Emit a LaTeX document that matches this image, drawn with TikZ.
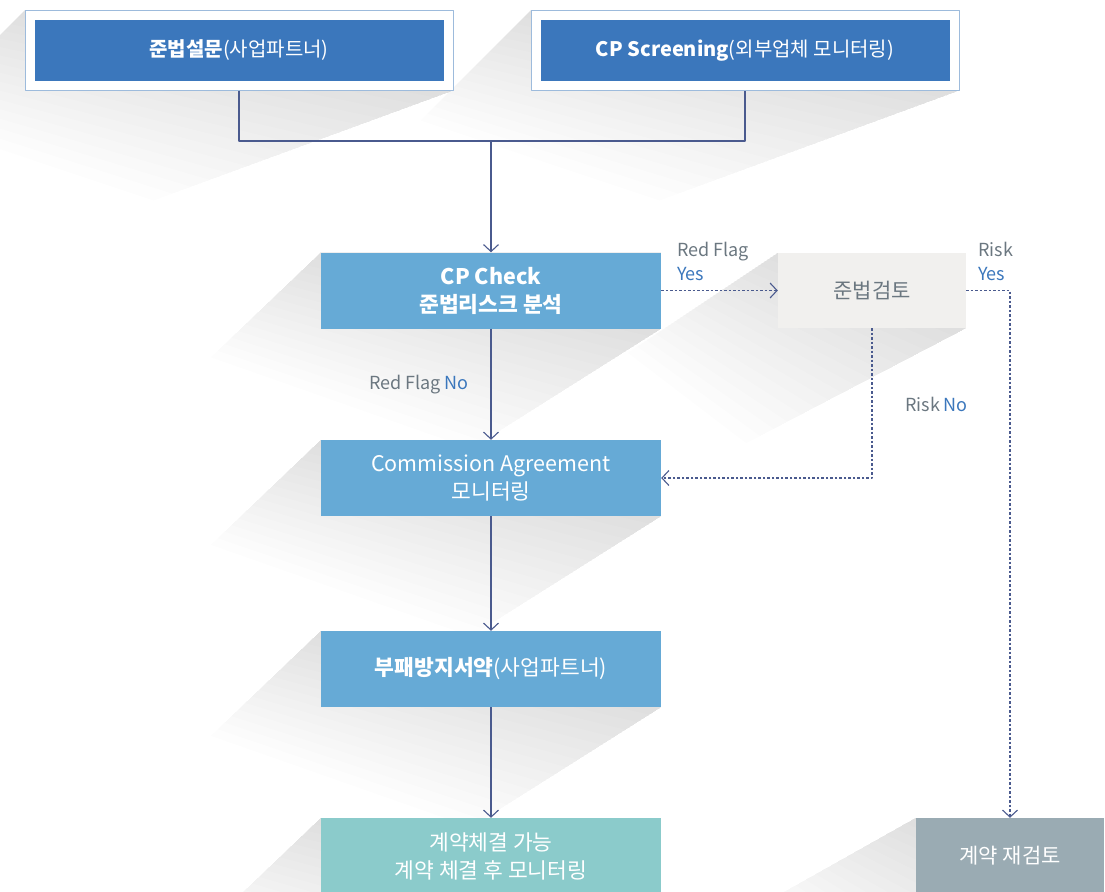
\documentclass[tikz,border=0pt]{standalone}
\usepackage{fontspec}
\setmainfont{Noto Sans CJK KR}
\usetikzlibrary{arrows.meta,calc}
\definecolor{topblue}{HTML}{3B77BC}
\definecolor{frameblue}{HTML}{9DBBDC}
\definecolor{midblue}{HTML}{66AAD6}
\definecolor{paleg}{HTML}{F1F0EE}
\definecolor{okteal}{HTML}{8BCBCB}
\definecolor{slateb}{HTML}{9AABB3}
\definecolor{linec}{HTML}{4A5A8E}
\definecolor{txtgray}{HTML}{6B7780}
\pgfdeclarelayer{bg}
\pgfsetlayers{bg,main}
% long shadow: node, offset of left corner, offset of right corner
\newcommand\longshadow[3]{%
\foreach \k [evaluate=\k as \t using \k/16] in {1,...,16}
\fill[black,opacity=0.0095] (#1.north west) -- ($(#1.north west)+\t*(#2)$) -- ($(#1.south east)+\t*(#3)$) -- (#1.south east) -- (#1.north east) -- cycle;}
\begin{document}
\begin{tikzpicture}[x=1pt,y=-1pt,line join=round,>={Straight Barb[length=7pt,width=15pt]},
frame/.style={draw=frameblue,fill=white,line width=1pt,minimum width=428pt,minimum height=79pt,inner sep=0pt},
topbox/.style={fill=topblue,minimum width=409pt,minimum height=61pt,inner sep=0pt,text=white,font=\fontsize{20}{26}\selectfont},
box/.style={fill=midblue,minimum width=340pt,minimum height=76pt,inner sep=0pt,align=center,text=white,font=\fontsize{21.5}{28}\selectfont},
sbox/.style={minimum width=188pt,minimum height=75pt,inner sep=0pt,align=center,font=\fontsize{21}{28}\selectfont},
lbl/.style={text=txtgray,align=left,inner sep=0pt,font=\fontsize{18}{24}\selectfont},
conn/.style={draw=linec,line width=1.1pt},
dotc/.style={conn,dash pattern=on 2.5pt off 2pt}]
\useasboundingbox (0,0) rectangle (1105,891);
\node[frame] (top1) at (239,50.5) {};
\node[topbox] (top1in) at (top1.center) {\textbf{준법설문}(사업파트너)};
\node[frame] (top2) at (745,50.5) {};
\node[topbox] (top2in) at (top2.center) {\textbf{CP Screening}(외부업체 모니터링)};
\node[box] (check) at (491,290.5) {\textbf{CP Check}\\\textbf{준법리스크 분석}};
\node[sbox,fill=paleg,text=txtgray] (review) at (872,290.5) {준법검토};
\node[box] (comm) at (491,478) {Commission Agreement\\모니터링};
\node[box] (pledge) at (491,669) {\textbf{부패방지서약}(사업파트너)};
\node[box,fill=okteal] (okbox) at (491,856) {계약체결 가능\\계약 체결 후 모니터링};
\node[sbox,fill=slateb,text=white,minimum height=76pt] (recheck) at (1010,856) {계약 재검토};
\coordinate (join) at (491,141);
\begin{pgfonlayer}{bg}
\longshadow{top1}{-110,110}{-300,110}
\longshadow{top2}{-110,110}{-300,110}
\longshadow{check}{-110,105}{-190,120}
\longshadow{review}{-150,100}{-220,115}
\longshadow{comm}{-110,105}{-190,120}
\longshadow{pledge}{-110,105}{-190,120}
\longshadow{okbox}{-110,105}{-190,120}
\longshadow{recheck}{-160,90}{-220,115}
\end{pgfonlayer}
% connectors
\draw[conn] (top1.south) |- (join) -| (top2.south);
\draw[conn,->] (join) -- (check);
\draw[conn,->] (check) -- (comm);
\draw[conn,->] (comm) -- (pledge);
\draw[conn,->] (pledge) -- (okbox);
\draw[dotc,->] (check) -- (review);
\draw[dotc,->] (review.east) -| (recheck.north);
\draw[dotc,->] (review.south) |- (comm.east);
% labels
\node[lbl,anchor=west] (rfyes) at (677,261) {Red Flag\\\textcolor{topblue}{Yes}};
\node[lbl,anchor=west] (riskyes) at (978,261) {Risk\\\textcolor{topblue}{Yes}};
\node[lbl,anchor=east] (rfno) at (469,385) {Red Flag \textcolor{topblue}{No}};
\node[lbl,anchor=west] (riskno) at (905,404) {Risk \textcolor{topblue}{No}};
\end{tikzpicture}
\end{document}
